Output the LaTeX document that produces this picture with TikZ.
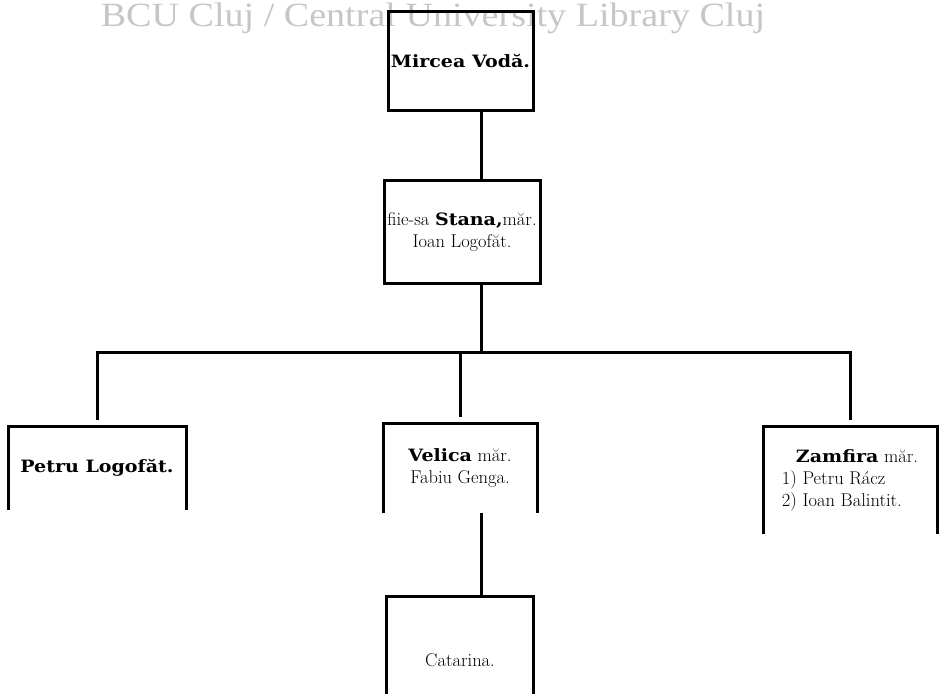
\documentclass[tikz,border=0pt]{standalone}
\usepackage{fontspec}
\newfontfamily\wmfont[FakeStretch=1.12]{Liberation Serif}
\newfontfamily\namefont[FakeStretch=1.12]{DejaVu Serif}
\usetikzlibrary{positioning}

\newcommand{\nm}[1]{{\namefont\bfseries\fontsize{17}{22}\selectfont #1}}

\begin{document}
\begin{tikzpicture}[x=1pt, y=-1pt, line width=3pt,
  box/.style={rectangle, draw=black, outer sep=0pt, inner sep=0pt, align=center, font=\fontsize{18.5}{22}\selectfont},
  openbox/.style={box, draw=none}]
\path[use as bounding box] (0,0) rectangle (941,693);
\clip (0,0) rectangle (941,693);

\node (wm) at (96,27) [anchor=base west, text=gray!45, font=\wmfont\fontsize{34}{36}\selectfont] {BCU Cluj / Central University Library Cluj};

\node (mircea) at (460.5,61) [box, minimum width=145pt, minimum height=98pt] {\nm{Mircea Vodă.}};
\node (stana) [below=70pt of mircea, xshift=1.5pt, box, minimum width=156pt, minimum height=103pt] {fiie-sa \nm{Stana,}măr.\\ Ioan Logofăt.};
\node (velica) [below=140pt of stana, xshift=-2pt, openbox, minimum width=154pt, minimum height=90pt] {\nm{Velica} măr.\\ Fabiu Genga.};
\node (petru) [left=197pt of velica, openbox, minimum width=178pt, minimum height=84pt] {\nm{Petru Logofăt.}};
\node (zamfira) [right=226pt of velica, yshift=-12pt, openbox, minimum width=174pt, minimum height=108pt, align=left] {\hspace*{14pt}\nm{Zamfira} măr.\\ 1) Petru Rácz\\ 2) Ioan Balintit.};
\node (catarina) [below=83pt of velica, openbox, minimum width=147pt, minimum height=128pt] {Catarina.};

\coordinate (bar) at (481,352);

\draw (mircea.south -| bar) -- (stana.north -| bar);
\draw (stana.south -| bar) -- (bar);
\draw [shorten <=6pt, shorten >=6pt] (petru.north) |- (zamfira.north |- bar) -- (zamfira.north);
\draw [shorten <=6pt] (velica.north) -- (velica.north |- bar);
\draw (velica.south -| bar) -- (catarina.north -| bar);

\foreach \b in {petru,velica,zamfira,catarina}
  \draw (\b.south west) -- (\b.north west) -- (\b.north east) -- (\b.south east);
\end{tikzpicture}
\end{document}
